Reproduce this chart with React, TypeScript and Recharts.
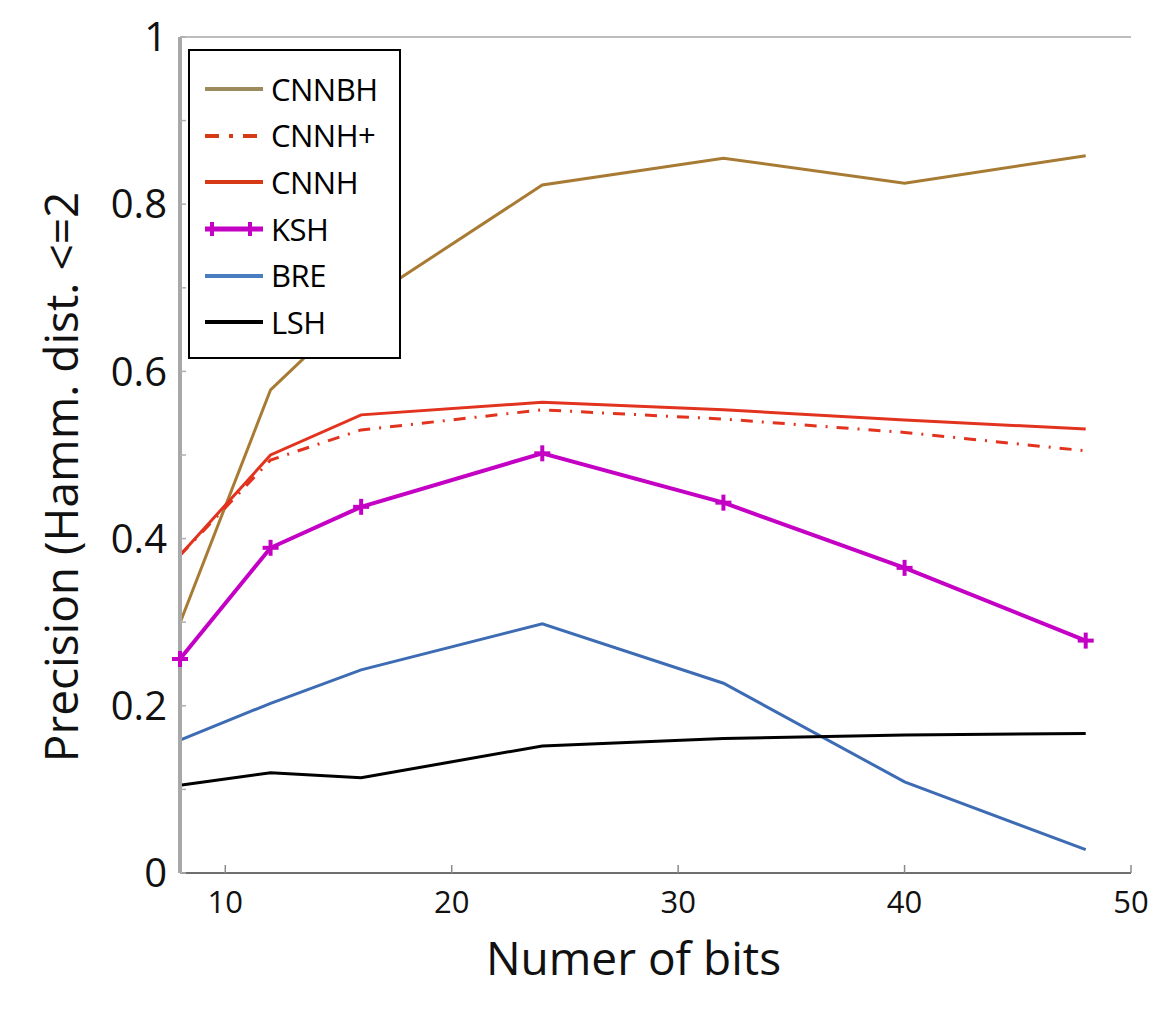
import React from 'react'
import {
  LineChart, Line, XAxis, YAxis, Legend, ReferenceLine,
} from 'recharts'

// values
const bits = [8, 12, 16, 24, 32, 40, 48]
const cnnbh = [0.299, 0.578, 0.681, 0.823, 0.855, 0.825, 0.858]
const cnnhPlus = [0.38, 0.494, 0.53, 0.554, 0.543, 0.527, 0.505]
const cnnh = [0.38, 0.5, 0.548, 0.563, 0.554, 0.542, 0.531]
const ksh = [0.256, 0.389, 0.438, 0.502, 0.443, 0.365, 0.278]
const bre = [0.159, 0.203, 0.243, 0.298, 0.227, 0.109, 0.028]
const lsh = [0.105, 0.12, 0.114, 0.152, 0.161, 0.165, 0.167]

const xTicks = [10, 20, 30, 40, 50]
const yTicks = [0, 0.1, 0.2, 0.3, 0.4, 0.5, 0.6, 0.7, 0.8, 0.9, 1]
const rightTicks = [0.1, 0.2, 0.3, 0.4, 0.5, 0.6, 0.7, 0.8, 0.9]

const data = bits.map((b, i) => ({
  bits: b,
  CNNBH: cnnbh[i],
  'CNNH+': cnnhPlus[i],
  CNNH: cnnh[i],
  KSH: ksh[i],
  BRE: bre[i],
  LSH: lsh[i],
}))

const series = [
  { key: 'CNNBH', color: '#a87b34', legend: '#9c8b5c', width: 3, dash: undefined },
  { key: 'CNNH+', color: '#e2331f', legend: '#d53a14', width: 3, dash: '12 9 2 9' },
  { key: 'CNNH', color: '#e2331f', legend: '#d53a14', width: 3, dash: undefined },
  { key: 'KSH', color: '#c400c4', legend: '#c400c4', width: 4, dash: undefined },
  { key: 'BRE', color: '#3d6cb4', legend: '#4a7cc0', width: 3, dash: undefined },
  { key: 'LSH', color: '#000000', legend: '#000000', width: 3, dash: undefined },
]

const FONT = '"Open Sans", sans-serif'

function PlusDot(props: any) {
  const { cx, cy, stroke } = props
  if (cx == null || cy == null) return null
  return (
    <g>
      <line x1={cx - 8} y1={cy} x2={cx + 8} y2={cy} stroke={stroke} strokeWidth={4} />
      <line x1={cx} y1={cy - 8} x2={cx} y2={cy + 8} stroke={stroke} strokeWidth={4} />
    </g>
  )
}

function LegendBox() {
  return (
    <div style={{
      width: 213, height: 310, border: '2px solid #000', background: '#fff',
      paddingTop: 15, boxSizing: 'border-box', fontFamily: FONT,
    }}>
      {series.map(s => (
        <div key={s.key} style={{ display: 'flex', alignItems: 'center', height: 46.6 }}>
          <svg width={81} height={20} style={{ flex: 'none' }}>
            <line x1={15} y1={10} x2={73} y2={10} stroke={s.legend} strokeWidth={s.key === 'KSH' ? 5 : 4}
              strokeDasharray={s.key === 'CNNH+' ? '14 10 4 10' : undefined} />
            {s.key === 'KSH' && (
              <g stroke={s.legend} strokeWidth={4}>
                <line x1={22} y1={3} x2={22} y2={17} />
                <line x1={60} y1={3} x2={60} y2={17} />
              </g>
            )}
          </svg>
          <span style={{ fontSize: 31, color: '#000', letterSpacing: -0.5, lineHeight: 1 }}>{s.key}</span>
        </div>
      ))}
    </div>
  )
}

function YTitle(props: any) {
  const { x, y, height } = props.viewBox
  const cx = x + 60
  const cy = y + height / 2 + 22
  return (
    <text x={cx} y={cy} transform={`rotate(-90 ${cx} ${cy})`} textAnchor="middle"
      dominantBaseline="central" fontFamily={FONT} fontSize={46} fill="#111">
      Precision (Hamm. dist. &lt;=2
    </text>
  )
}

function XTitle(props: any) {
  const { x, y, width } = props.viewBox
  return (
    <text x={x + width / 2 - 22} y={y + 102} textAnchor="middle"
      fontFamily={FONT} fontSize={46} fill="#111">
      Numer of bits
    </text>
  )
}

const yFmt = (v: number) => {
  const t = Math.round(v * 10)
  if (t % 2 !== 0) return ''
  if (t === 0) return '0'
  if (t === 10) return '1'
  return (t / 10).toFixed(1)
}

export default function App() {
  return (
    <div style={{ position: 'absolute', left: 0, top: 0, width: 1165, height: 1009, background: '#fff' }}>
      <LineChart width={1165} height={1009} data={data}
        margin={{ top: 37, right: 34, bottom: 0, left: 0 }}>
        <XAxis dataKey="bits" type="number" domain={[8, 50]} ticks={xTicks} interval={0}
          height={136} tickSize={-8} tickMargin={26}
          tick={{ fontSize: 31, fill: '#111', fontFamily: FONT }}
          axisLine={{ stroke: '#6f6f6f', strokeWidth: 2 }} tickLine={{ stroke: '#8a8a8a', strokeWidth: 1.5 }}
          label={XTitle} />
        <YAxis yAxisId="l" type="number" domain={[0, 1]} ticks={yTicks} interval={0} width={180}
          tickSize={-6} tickMargin={19} tickFormatter={yFmt}
          tick={{ fontSize: 40, fill: '#111', fontFamily: FONT }}
          axisLine={{ stroke: '#a8a8a8', strokeWidth: 4 }} tickLine={{ stroke: '#b0b0b0', strokeWidth: 1.5 }}
          label={YTitle} />
        <YAxis yAxisId="r" orientation="right" type="number" domain={[0, 1]} ticks={rightTicks} interval={0}
          width={0} tickSize={-10} tick={false}
          axisLine={{ stroke: '#a0a0a0', strokeWidth: 3 }} tickLine={{ stroke: '#b0b0b0', strokeWidth: 1.5 }} />
        <ReferenceLine yAxisId="l" y={1} stroke="#bdbdbd" strokeWidth={2} />
        {series.map(s => (
          <Line key={s.key} yAxisId="l" type="linear" dataKey={s.key} stroke={s.color}
            strokeWidth={s.width} strokeDasharray={s.dash}
            dot={s.key === 'KSH' ? <PlusDot /> : false} activeDot={false}
            isAnimationActive={false} />
        ))}
        <Legend layout="vertical" align="center" verticalAlign="middle" content={LegendBox}
          wrapperStyle={{ left: 188, top: 49, width: 213, height: 310 }} />
      </LineChart>
    </div>
  )
}
